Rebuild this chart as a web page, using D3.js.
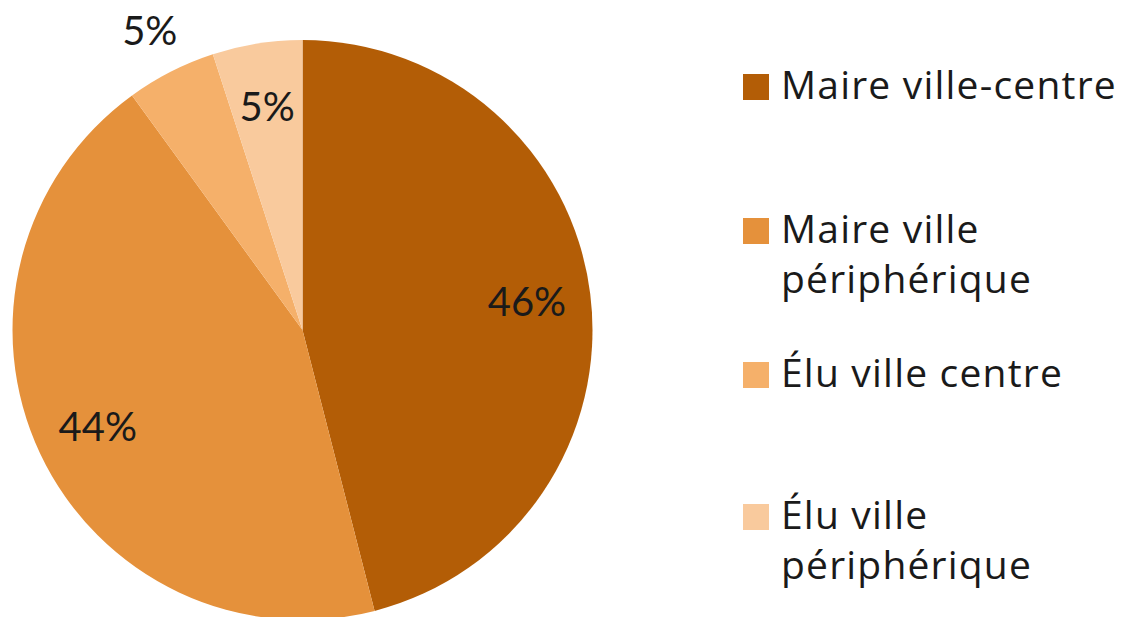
<!DOCTYPE html>
<html>
<head>
<meta charset="utf-8">
<script src="https://cdn.jsdelivr.net/npm/d3@7"></script>
<style>
  body { margin: 0; background: #fff; }
  text { font-family: Lato, "Open Sans", sans-serif; fill: #1a1a1a; }
  .legend text { font-family: "Open Sans", Lato, sans-serif; letter-spacing: 1.2px; }
</style>
</head>
<body>
<div id="chart"></div>
<script>
// Data
var categories = ["Maire ville-centre", "Maire ville périphérique", "Élu ville centre", "Élu ville périphérique"];
var values = [46, 44, 5, 5];
var legendLines = [["Maire ville-centre"], ["Maire ville", "périphérique"], ["Élu ville centre"], ["Élu ville", "périphérique"]];
var colors = ["#B35D06", "#E5913B", "#F5B06A", "#F9CA9D"];
var outsideLabel = [false, false, true, false];

var svgWidth = 1125;
var svgHeight = 617;

var svg = d3.select("#chart")
  .append("svg")
  .attr("width", svgWidth)
  .attr("height", svgHeight);

var cx = 302.5, cy = 330, radius = 290;

var pieGroup = svg.append("g")
  .attr("transform", `translate(${cx}, ${cy})`);

var pie = d3.pie().sort(null).value(d => d);
var arcs = pie(values);

var arc = d3.arc().innerRadius(0).outerRadius(radius);
var labelArc = d3.arc().innerRadius(radius * 0.78).outerRadius(radius * 0.78);
var outerArc = d3.arc().innerRadius(radius * 1.16).outerRadius(radius * 1.16);

pieGroup.selectAll("path")
  .data(arcs)
  .enter()
  .append("path")
  .attr("d", arc)
  .attr("fill", (d, i) => colors[i]);

pieGroup.selectAll("text.label")
  .data(arcs)
  .enter()
  .append("text")
  .attr("class", "label")
  .attr("transform", (d, i) => `translate(${(outsideLabel[i] ? outerArc : labelArc).centroid(d)})`)
  .attr("text-anchor", "middle")
  .attr("dy", "0.36em")
  .style("font-size", "40px")
  .text(d => d.value + "%");

// Legend
var legendX = 743;
var legendRows = [99, 243, 387, 529];
var lineHeight = 50;

var legend = svg.append("g").attr("class", "legend");

legendLines.forEach(function(lines, i) {
  legend.append("rect")
    .attr("x", legendX)
    .attr("y", legendRows[i] - 25)
    .attr("width", 26)
    .attr("height", 26)
    .attr("fill", colors[i]);

  var t = legend.append("text")
    .attr("x", legendX + 38)
    .attr("y", legendRows[i])
    .style("font-size", "39px");

  lines.forEach(function(line, j) {
    t.append("tspan")
      .attr("x", legendX + 38)
      .attr("dy", j === 0 ? 0 : lineHeight)
      .text(line);
  });
});
</script>
</body>
</html>
